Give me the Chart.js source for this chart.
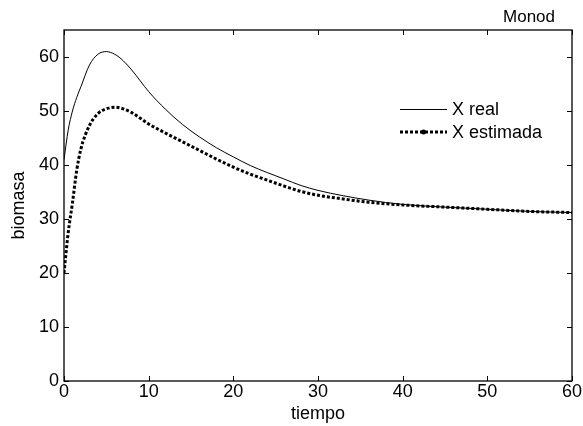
<!DOCTYPE html>
<html>
<head>
<meta charset="utf-8">
<script src="https://cdn.jsdelivr.net/npm/chart.js@4.4.0/dist/chart.umd.min.js"></script>
<style>
  html, body { margin: 0; padding: 0; background: #fff; }
  #wrap { width: 583px; height: 426px; position: relative; }
</style>
</head>
<body>
<div id="wrap"><canvas id="chart"></canvas></div>
<script>
// tiempo values
const tiempo = [0, 0.5, 1, 1.5, 2, 3, 4, 5, 6, 7, 8, 10, 12, 14, 16, 18, 20, 22, 24, 26, 28, 30, 33, 36, 40, 45, 50, 55, 60];
const xReal = [41, 46.5, 50, 52.5, 54.5, 58.5, 60.5, 61, 60.5, 59.3, 57.6, 53.6, 50.3, 47.5, 45.2, 43.2, 41.5, 39.9, 38.6, 37.4, 36.2, 35.3, 34.3, 33.5, 32.7, 32.2, 31.8, 31.4, 31.2];
const xEstimada = [20, 27.5, 33, 39, 43, 47.3, 49.5, 50.4, 50.7, 50.4, 49.7, 47.6, 45.9, 44.3, 42.7, 41.1, 39.6, 38.3, 37.2, 36.1, 35.1, 34.4, 33.7, 33.1, 32.6, 32.2, 31.8, 31.4, 31.2];
const xTicks = [0, 10, 20, 30, 40, 50, 60];
const yTicks = [0, 10, 20, 30, 40, 50, 60];
const seriesLabels = ['X real', 'X estimada'];
const titleText = 'Monod';

const FONT = 'Liberation Sans, Arial, sans-serif';

function toPoints(ys) {
  return tiempo.map((t, i) => ({ x: t, y: ys[i] }));
}

// frame, inward ticks, title and legend, matlab style
const matlabFrame = {
  id: 'matlabFrame',
  afterDraw(chart) {
    const ctx = chart.ctx;
    const a = chart.chartArea;
    const xs = chart.scales.x;
    const ys = chart.scales.y;
    ctx.save();
    ctx.strokeStyle = '#000';
    ctx.lineWidth = 1.3;
    ctx.strokeRect(a.left, a.top, a.right - a.left, a.bottom - a.top);

    ctx.lineWidth = 1;
    const len = 5;
    ctx.beginPath();
    xTicks.forEach(v => {
      const px = Math.round(xs.getPixelForValue(v)) + 0.5;
      ctx.moveTo(px, a.bottom); ctx.lineTo(px, a.bottom - len);
      ctx.moveTo(px, a.top); ctx.lineTo(px, a.top + len);
    });
    yTicks.forEach(v => {
      const py = Math.round(ys.getPixelForValue(v)) + 0.5;
      ctx.moveTo(a.left, py); ctx.lineTo(a.left + len, py);
      ctx.moveTo(a.right, py); ctx.lineTo(a.right - len, py);
    });
    ctx.stroke();

    // title
    ctx.fillStyle = '#000';
    ctx.font = '17px ' + FONT;
    ctx.textAlign = 'right';
    ctx.textBaseline = 'middle';
    ctx.fillText(titleText, 555, 17);

    // legend
    ctx.font = '18px ' + FONT;
    const lx0 = 400, lx1 = 447, tx = 452;
    const ly = [109, 132];
    ctx.textAlign = 'left';
    ctx.beginPath();
    ctx.lineWidth = 1;
    ctx.moveTo(lx0, ly[0] + 0.5); ctx.lineTo(lx1, ly[0] + 0.5);
    ctx.stroke();
    ctx.fillText(seriesLabels[0], tx, ly[0] + 1);

    ctx.beginPath();
    ctx.lineWidth = 3;
    ctx.setLineDash([3, 2]);
    ctx.moveTo(lx0, ly[1]); ctx.lineTo(lx1, ly[1]);
    ctx.stroke();
    ctx.setLineDash([]);
    ctx.beginPath();
    ctx.arc((lx0 + lx1) / 2, ly[1], 2.5, 0, Math.PI * 2);
    ctx.fill();
    ctx.fillText(seriesLabels[1], tx, ly[1] + 1);
    ctx.restore();
  }
};

new Chart(document.getElementById('chart'), {
  type: 'scatter',
  data: {
    datasets: [
      {
        label: seriesLabels[0],
        data: toPoints(xReal),
        showLine: true,
        borderColor: '#000',
        borderWidth: 1,
        pointRadius: 0,
        cubicInterpolationMode: 'monotone'
      },
      {
        label: seriesLabels[1],
        data: toPoints(xEstimada),
        showLine: true,
        borderColor: '#000',
        borderWidth: 3,
        borderDash: [3, 2],
        pointRadius: 0,
        cubicInterpolationMode: 'monotone'
      }
    ]
  },
  options: {
    responsive: true,
    maintainAspectRatio: false,
    animation: false,
    layout: { padding: { top: 30, right: 11, left: 0, bottom: 0 } },
    plugins: {
      legend: { display: false },
      tooltip: { enabled: false }
    },
    scales: {
      x: {
        type: 'linear',
        min: 0,
        max: 60,
        afterBuildTicks: s => { s.ticks = xTicks.map(v => ({ value: v })); },
        afterFit: s => { s.height = 45; },
        grid: { display: false, drawTicks: false },
        border: { display: false },
        ticks: { color: '#000', font: { family: FONT, size: 18 }, padding: 0, maxRotation: 0 },
        title: { display: true, text: 'tiempo', color: '#000', font: { family: FONT, size: 18 }, padding: { top: 0, bottom: 1 } }
      },
      y: {
        type: 'linear',
        min: 0,
        max: 65,
        afterBuildTicks: s => { s.ticks = yTicks.map(v => ({ value: v })); },
        afterFit: s => { s.width = 64; },
        grid: { display: false, drawTicks: false },
        border: { display: false },
        ticks: { color: '#000', font: { family: FONT, size: 18 }, padding: 5 },
        title: { display: true, text: 'biomasa', color: '#000', font: { family: FONT, size: 18 }, padding: { top: 8, bottom: 0 } }
      }
    }
  },
  plugins: [matlabFrame]
});
</script>
</body>
</html>
